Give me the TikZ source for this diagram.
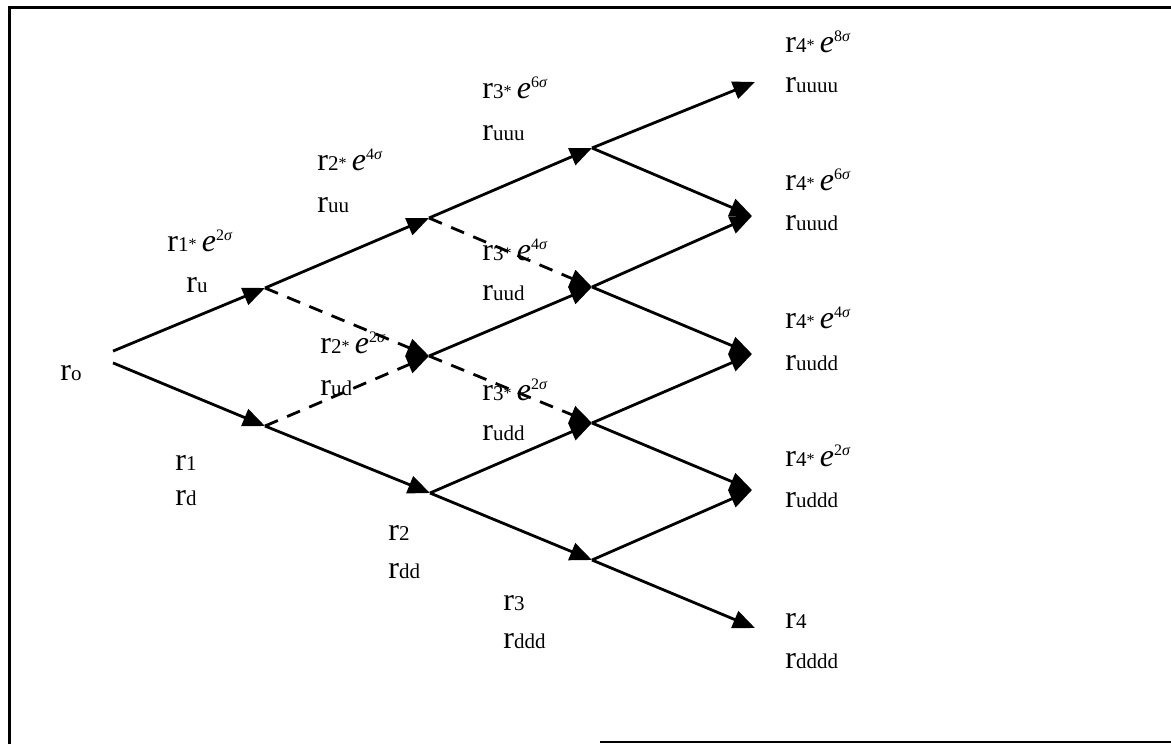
\documentclass[tikz,border=0pt]{standalone}
\usepackage{fontspec}
\setmainfont{Liberation Serif}
\usetikzlibrary{arrows.meta}
\newcommand{\rsub}[1]{r{\fontsize{10.5}{11}\selectfont #1}}
\newcommand{\rexp}[2]{r{\fontsize{10.5}{11}\selectfont #1\raisebox{1pt}{\fontsize{8}{8}\selectfont *}}\,\textit{e}\raisebox{5.5pt}{\fontsize{8}{8}\selectfont #2\textit{σ}}}

\begin{document}
\begin{tikzpicture}[x=0.5pt, y=-0.5pt,
   branch/.style={line width=1.4pt, -{Triangle[length=11pt,width=9pt]}},
   dbranch/.style={branch, dash pattern=on 7pt off 5pt},
   lbl/.style={anchor=base west, inner sep=0pt, font=\fontsize{16}{18}\selectfont}]
            \useasboundingbox (0,0) rectangle (1171,744);
            % Frame (open at the right)
            \draw[line width=1.5pt] (9,744) -- (9,7) -- (1171,7);
            \draw[line width=1.2pt] (600,742) -- (1171,742);
            % Lattice points
            \node[inner sep=0pt, minimum width=0pt, minimum height=5.5pt] (n0) at (113,357) {};
            \coordinate (u) at (265,288);
            \coordinate (d) at (265,426);
            \coordinate (uu) at (429,218);
            \coordinate (ud) at (429,356);
            \coordinate (dd) at (430,493);
            \coordinate (uuu) at (592,148);
            \coordinate (uud) at (592,287);
            \coordinate (udd) at (592,423);
            \coordinate (ddd) at (592,560);
            \coordinate (uuuu) at (755,82);
            \coordinate (uuud) at (752,216);
            \coordinate (uudd) at (752,354);
            \coordinate (uddd) at (752,490);
            \coordinate (dddd) at (755,628);
            % Step 1
            \draw[branch] (n0.north) -- (u);
            \draw[branch] (n0.south) -- (d);
            % Step 2
            \draw[branch] (u) -- (uu);
            \draw[dbranch] (u) -- (ud);
            \draw[dbranch] (d) -- (ud);
            \draw[branch] (d) -- (dd);
            % Step 3
            \draw[branch] (uu) -- (uuu);
            \draw[dbranch] (uu) -- (uud);
            \draw[branch] (ud) -- (uud);
            \draw[dbranch] (ud) -- (udd);
            \draw[branch] (dd) -- (udd);
            \draw[branch] (dd) -- (ddd);
            % Step 4
            \draw[branch] (uuu) -- (uuuu);
            \draw[branch] (uuu) -- (uuud);
            \draw[branch] (uud) -- (uuud);
            \draw[branch] (uud) -- (uudd);
            \draw[branch] (udd) -- (uudd);
            \draw[branch] (udd) -- (uddd);
            \draw[branch] (ddd) -- (uddd);
            \draw[branch] (ddd) -- (dddd);
            % Rates
            \node[lbl] (l0) at (60,380) {\rsub{o}};
            \node[lbl] (l1u) at (167,251) {\rexp{1}{2}};
            \node[lbl] (l1un) at (186,292) {\rsub{u}};
            \node[lbl] (l1d) at (175,470) {\rsub{1}};
            \node[lbl] (l1dn) at (175,505) {\rsub{d}};
            \node[lbl] (l2uu) at (317,170) {\rexp{2}{4}};
            \node[lbl] (l2uun) at (317,212) {\rsub{uu}};
            \node[lbl] (l2ud) at (320,353) {\rexp{2}{2}};
            \node[lbl] (l2udn) at (320,395) {\rsub{ud}};
            \node[lbl] (l2dd) at (388,540) {\rsub{2}};
            \node[lbl] (l2ddn) at (388,578) {\rsub{dd}};
            \node[lbl] (l3uuu) at (482,98) {\rexp{3}{6}};
            \node[lbl] (l3uuun) at (482,140) {\rsub{uuu}};
            \node[lbl] (l3uud) at (482,260) {\rexp{3}{4}};
            \node[lbl] (l3uudn) at (482,300) {\rsub{uud}};
            \node[lbl] (l3udd) at (482,400) {\rexp{3}{2}};
            \node[lbl] (l3uddn) at (482,440) {\rsub{udd}};
            \node[lbl] (l3ddd) at (503,610) {\rsub{3}};
            \node[lbl] (l3dddn) at (503,648) {\rsub{ddd}};
            \node[lbl] (l4a) at (785,52) {\rexp{4}{8}};
            \node[lbl] (l4an) at (785,92) {\rsub{uuuu}};
            \node[lbl] (l4b) at (785,190) {\rexp{4}{6}};
            \node[lbl] (l4bn) at (785,230) {\rsub{uuud}};
            \node[lbl] (l4c) at (785,328) {\rexp{4}{4}};
            \node[lbl] (l4cn) at (785,370) {\rsub{uudd}};
            \node[lbl] (l4d) at (785,466) {\rexp{4}{2}};
            \node[lbl] (l4dn) at (785,507) {\rsub{uddd}};
            \node[lbl] (l4e) at (785,628) {\rsub{4}};
            \node[lbl] (l4en) at (785,668) {\rsub{dddd}};
\end{tikzpicture}
\end{document}
